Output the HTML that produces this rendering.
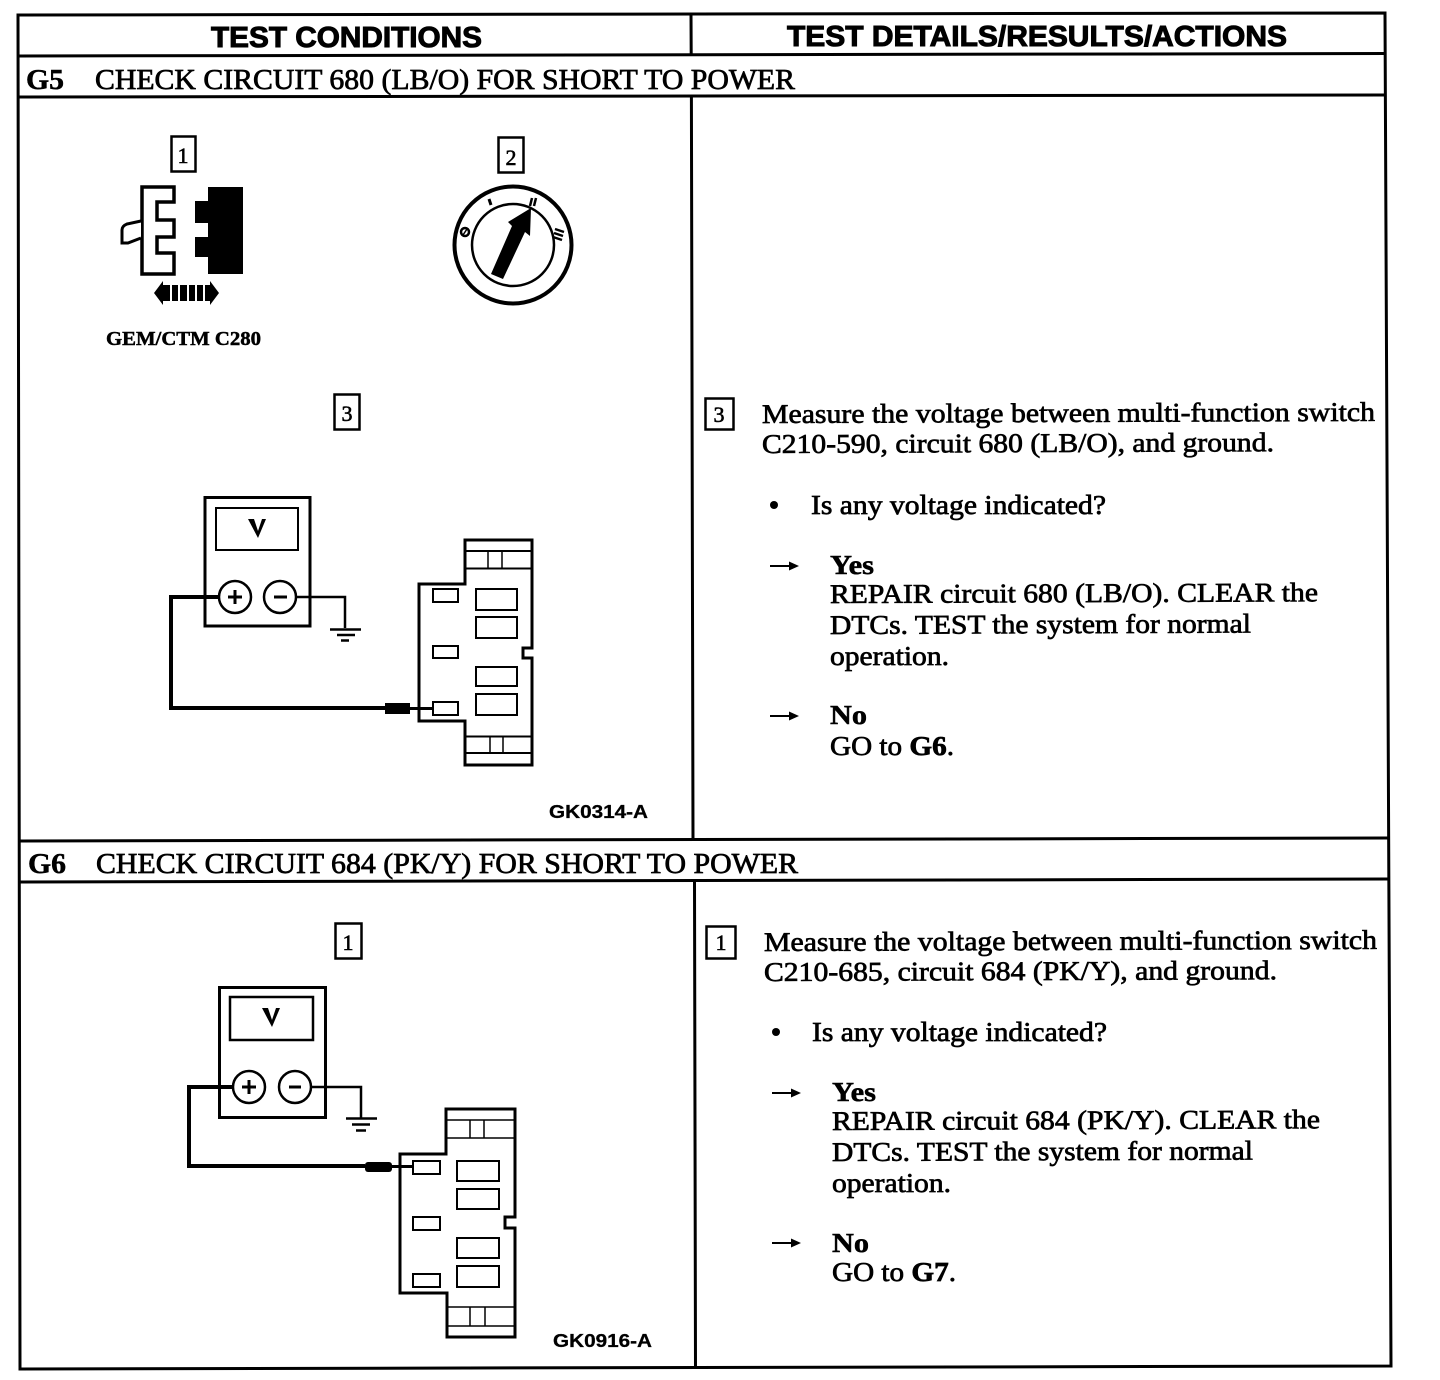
<!DOCTYPE html>
<html><head><meta charset="utf-8"><style>
html,body{margin:0;padding:0;background:#fff;width:1440px;height:1380px;overflow:hidden}
svg{display:block}
.s{font-family:"Liberation Serif",serif;fill:#000;stroke:#000;stroke-width:.7px}
.b{font-family:"Liberation Serif",serif;font-weight:bold;fill:#000;stroke:#000;stroke-width:.5px}
.h{font-family:"Liberation Sans",sans-serif;font-weight:bold;fill:#000;stroke:#000;stroke-width:1px}
.t{font-size:27px}
.l{fill:none;stroke:#000;stroke-width:3}
.m{fill:none;stroke:#000;stroke-width:2.500}
.n{font-family:"Liberation Serif",serif;font-size:22px;text-anchor:middle;fill:#000;stroke:#000;stroke-width:.6px}
</style></head><body>
<svg width="1440" height="1380" viewBox="0 0 1440 1380" xmlns="http://www.w3.org/2000/svg">
<!-- table -->
<g class="l">
<path d="M18 15L1385 13L1391 1366L20 1369Z"/>
<path d="M18 56L1385 53.5"/>
<path d="M19 97L1385 95"/>
<path d="M20 841L1389 838"/>
<path d="M20 882L1389 879"/>
<path d="M691 14L691.2 55M691.4 96L693 840M694.5 881L695.5 1367"/>
</g>
<!-- headers -->
<text class="h" x="211" y="47" font-size="29" textLength="271" lengthAdjust="spacingAndGlyphs">TEST CONDITIONS</text>
<text class="h" x="787" y="46" font-size="29" textLength="500" lengthAdjust="spacingAndGlyphs">TEST DETAILS/RESULTS/ACTIONS</text>
<text class="b" x="26" y="89" font-size="28" textLength="38" lengthAdjust="spacingAndGlyphs">G5</text>
<text class="s" x="95" y="89" font-size="28" textLength="700" lengthAdjust="spacingAndGlyphs">CHECK CIRCUIT 680 (LB/O) FOR SHORT TO POWER</text>
<text class="b" x="28" y="873" font-size="28" textLength="38" lengthAdjust="spacingAndGlyphs">G6</text>
<text class="s" x="96" y="873" font-size="28" textLength="702" lengthAdjust="spacingAndGlyphs">CHECK CIRCUIT 684 (PK/Y) FOR SHORT TO POWER</text>

<!-- numbered boxes -->
<g class="m">
<rect x="171.500" y="136.500" width="24" height="35"/>
<rect x="498.500" y="137.500" width="25" height="35"/>
<rect x="334.500" y="394.500" width="25" height="35"/>
<rect x="705.500" y="398.500" width="28" height="31"/>
<rect x="335.500" y="923.500" width="26" height="35"/>
<rect x="706.500" y="926.500" width="29" height="32"/>
</g>
<text class="n" x="183" y="163">1</text>
<text class="n" x="511" y="165">2</text>
<text class="n" x="347" y="421">3</text>
<text class="n" x="719" y="422">3</text>
<text class="n" x="348" y="950">1</text>
<text class="n" x="721" y="950">1</text>

<!-- connector icon -->
<path d="M142 187H174V202H157V220H174V237H157V253H174V274H142Z" fill="#fff" stroke="#000" stroke-width="3.500"/>
<path d="M141 221L127 224Q122 226 122 230V243L128 243L141 238" fill="#fff" stroke="#000" stroke-width="3"/>
<path d="M208 187H243V274H208V257H195V237H208V223H195V201H208Z" fill="#000"/>
<path d="M154 293L163 281V305Z M163 285H170V301H163Z M219 293L210 281V305Z M205 285H210V301H205Z M172 285H178V301H172Z M180 285H187V301H180Z M189 285H195V301H189Z M197 285H203V301H197Z" fill="#000"/>
<text class="b" x="106" y="345" font-size="20" textLength="155" lengthAdjust="spacingAndGlyphs">GEM/CTM C280</text>

<!-- ignition switch -->
<circle cx="513" cy="245" r="58.500" fill="none" stroke="#000" stroke-width="4"/>
<circle cx="513" cy="245" r="41" fill="none" stroke="#000" stroke-width="2.500"/>
<path d="M491 274L512 226L508 222L531 208L530 236L525 232L503 279Z" fill="#000"/>
<circle cx="465" cy="232" r="4" fill="none" stroke="#000" stroke-width="2.500"/>
<path d="M463 235L467 229" stroke="#000" stroke-width="1.500"/>
<path d="M489 199L491 205" stroke="#000" stroke-width="3"/>
<path d="M532 198L530 206M536 198L534 206" stroke="#000" stroke-width="2.500"/>
<path d="M555 229L564 232M554 233L563 236M553 237L562 240" stroke="#000" stroke-width="2.500"/>

<!-- meter 1 -->
<g>
<rect x="205" y="497.500" width="105" height="128.500" fill="#fff" stroke="#000" stroke-width="3"/>
<rect x="216" y="508" width="82" height="42" fill="none" stroke="#000" stroke-width="2"/>
<path d="M171 708V597H219" fill="none" stroke="#000" stroke-width="4"/>
<path d="M169 708H385" fill="none" stroke="#000" stroke-width="4"/>
<path d="M296 597H345V628" fill="none" stroke="#000" stroke-width="2.500"/>
<circle cx="235" cy="597" r="16" fill="#fff" stroke="#000" stroke-width="2.500"/>
<circle cx="280" cy="597" r="16" fill="#fff" stroke="#000" stroke-width="2.500"/>
<path d="M235 590V604M228 597H242" stroke="#000" stroke-width="3"/>
<path d="M274 597H287" stroke="#000" stroke-width="3"/>
<path d="M330 629.500H361M337 635H355M341 640.500H349" stroke="#000" stroke-width="2.500"/>
<path d="M248 519H254L258 531L262 519H266L258 538Z" fill="#000"/>
<rect x="385" y="703" width="25" height="11" fill="#000"/>
<path d="M410 708.500H433" stroke="#000" stroke-width="3"/>
<path d="M465 540H532V648H523V658H532V765H465V721H419V584H465Z" fill="none" stroke="#000" stroke-width="3"/>
<path d="M465 551H532M465 568.500H532M465 736.500H532M465 753H532" stroke="#000" stroke-width="2"/>
<path d="M488 551V568M502 551V568M490 737V752M503 737V752" stroke="#000" stroke-width="1.500"/>
<g fill="#fff" stroke="#000" stroke-width="2">
<rect x="433" y="589" width="25" height="13"/>
<rect x="433" y="646" width="25" height="12"/>
<rect x="433" y="702" width="25" height="13"/>
<rect x="476" y="589" width="41" height="21"/>
<rect x="476" y="617" width="41" height="21"/>
<rect x="476" y="667" width="41" height="19"/>
<rect x="476" y="694" width="41" height="21"/>
</g>
</g>
<text class="h" style="stroke-width:.3px" x="549" y="818" font-size="18" textLength="99" lengthAdjust="spacingAndGlyphs">GK0314-A</text>

<!-- meter 2 -->
<g>
<rect x="219.500" y="987.500" width="106" height="130" fill="#fff" stroke="#000" stroke-width="3"/>
<rect x="230" y="997" width="83" height="43" fill="none" stroke="#000" stroke-width="2.500"/>
<path d="M233 1087H189V1166H365" fill="none" stroke="#000" stroke-width="4"/>
<path d="M311 1087H361V1118" fill="none" stroke="#000" stroke-width="2.500"/>
<circle cx="249" cy="1087" r="16" fill="#fff" stroke="#000" stroke-width="2.500"/>
<circle cx="295" cy="1087" r="16" fill="#fff" stroke="#000" stroke-width="2.500"/>
<path d="M249 1080V1094M242 1087H256" stroke="#000" stroke-width="3"/>
<path d="M289 1087H301" stroke="#000" stroke-width="3"/>
<path d="M346 1118.500H377M352 1124.500H370M356 1130.500H366" stroke="#000" stroke-width="2.500"/>
<path d="M262 1008H268L272 1020L276 1008H280L272 1027Z" fill="#000"/>
<rect x="365" y="1162" width="27" height="10" rx="3" fill="#000"/>
<path d="M392 1166.500H414" stroke="#000" stroke-width="3"/>
<path d="M446 1109H515V1217H505V1228H515V1337H447V1293H400V1154H446Z" fill="none" stroke="#000" stroke-width="3"/>
<path d="M446 1120H515M446 1138H515M447 1307H515M447 1326H515" stroke="#000" stroke-width="1.500"/>
<path d="M470 1120V1138M484 1120V1138M470 1307V1326M485 1307V1326" stroke="#000" stroke-width="1.500"/>
<g fill="#fff" stroke="#000" stroke-width="2">
<rect x="413" y="1161" width="27" height="13"/>
<rect x="413" y="1217" width="27" height="13"/>
<rect x="413" y="1274" width="27" height="13"/>
<rect x="457" y="1161" width="42" height="20"/>
<rect x="457" y="1189" width="42" height="20"/>
<rect x="457" y="1238" width="42" height="20"/>
<rect x="457" y="1266" width="42" height="21"/>
</g>
</g>
<text class="h" style="stroke-width:.3px" x="553" y="1347" font-size="18" textLength="99" lengthAdjust="spacingAndGlyphs">GK0916-A</text>

<!-- right text G5 -->
<g class="s t">
<text x="762" y="423" transform="rotate(-.2 762 423)" textLength="613" lengthAdjust="spacingAndGlyphs">Measure the voltage between multi-function switch</text>
<text x="762" y="453" transform="rotate(-.2 762 453)" textLength="512" lengthAdjust="spacingAndGlyphs">C210-590, circuit 680 (LB/O), and ground.</text>
<text x="811" y="514" textLength="295" lengthAdjust="spacingAndGlyphs">Is any voltage indicated?</text>
<text x="830" y="603" transform="rotate(-.2 830 603)" textLength="488" lengthAdjust="spacingAndGlyphs">REPAIR circuit 680 (LB/O). CLEAR the</text>
<text x="830" y="634" transform="rotate(-.2 830 634)" textLength="421" lengthAdjust="spacingAndGlyphs">DTCs. TEST the system for normal</text>
<text x="830" y="665" textLength="119" lengthAdjust="spacingAndGlyphs">operation.</text>
<text x="830" y="755" textLength="124" lengthAdjust="spacingAndGlyphs">GO to <tspan font-weight="bold">G6</tspan>.</text>
</g>
<text class="b t" x="830" y="574" textLength="44" lengthAdjust="spacingAndGlyphs">Yes</text>
<text class="b t" x="830" y="724" textLength="37" lengthAdjust="spacingAndGlyphs">No</text>
<circle cx="774" cy="505" r="4" fill="#000"/>
<path d="M770 566H792" stroke="#000" stroke-width="2"/><path d="M799 566L789 561.500V570.500Z" fill="#000"/>
<path d="M770 716H792" stroke="#000" stroke-width="2"/><path d="M799 716L789 711.500V720.500Z" fill="#000"/>

<!-- right text G6 -->
<g class="s t">
<text x="764" y="951" transform="rotate(-.2 764 951)" textLength="613" lengthAdjust="spacingAndGlyphs">Measure the voltage between multi-function switch</text>
<text x="764" y="981" transform="rotate(-.2 764 981)" textLength="513" lengthAdjust="spacingAndGlyphs">C210-685, circuit 684 (PK/Y), and ground.</text>
<text x="812" y="1041" textLength="295" lengthAdjust="spacingAndGlyphs">Is any voltage indicated?</text>
<text x="832" y="1130" transform="rotate(-.2 832 1130)" textLength="488" lengthAdjust="spacingAndGlyphs">REPAIR circuit 684 (PK/Y). CLEAR the</text>
<text x="832" y="1161" transform="rotate(-.2 832 1161)" textLength="421" lengthAdjust="spacingAndGlyphs">DTCs. TEST the system for normal</text>
<text x="832" y="1192" textLength="119" lengthAdjust="spacingAndGlyphs">operation.</text>
<text x="832" y="1281" textLength="124" lengthAdjust="spacingAndGlyphs">GO to <tspan font-weight="bold">G7</tspan>.</text>
</g>
<text class="b t" x="832" y="1101" textLength="44" lengthAdjust="spacingAndGlyphs">Yes</text>
<text class="b t" x="832" y="1252" textLength="37" lengthAdjust="spacingAndGlyphs">No</text>
<circle cx="776" cy="1032" r="4" fill="#000"/>
<path d="M772 1093H794" stroke="#000" stroke-width="2"/><path d="M801 1093L791 1088.500V1097.500Z" fill="#000"/>
<path d="M772 1243H794" stroke="#000" stroke-width="2"/><path d="M801 1243L791 1238.500V1247.500Z" fill="#000"/>
</svg>
</body></html>
